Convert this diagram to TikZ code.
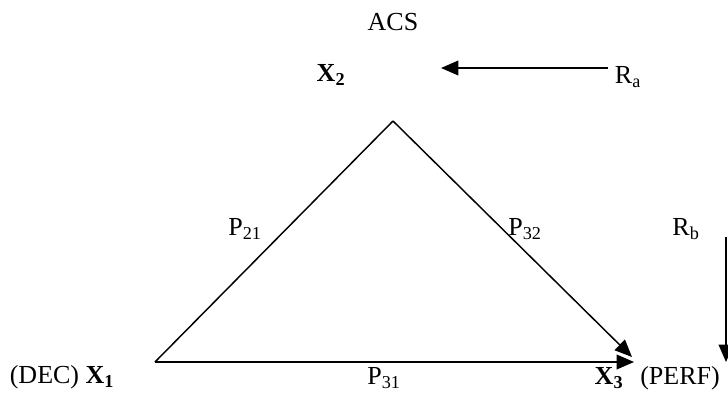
\documentclass[tikz,border=0pt]{standalone}
\usepackage{fontspec}
\setmainfont{Liberation Serif}
\usetikzlibrary{arrows.meta}
\begin{document}
\begin{tikzpicture}[x=0.75pt, y=-0.75pt, >={Triangle[length=13pt,width=11pt]},
    lbl/.style={inner sep=0pt, font=\fontsize{19.5}{22}\selectfont},
    edge/.style={line width=1.1pt}]
  \useasboundingbox (0,0) rectangle (728,393);
  % vertices of the triangle
  \coordinate (v2) at (393,121);
  \coordinate (v1) at (155,362);
  \coordinate (v3) at (634,362);
  \coordinate (v3d) at (632,357);
  % labels
  \node[lbl] (acs) at (393,22) {ACS};
  \node[lbl] (x2) at (331,75) {\textbf{X\textsubscript{2}}};
  \node[lbl] (ra) at (628,77) {R\textsubscript{a}};
  \node[lbl] (p21) at (245,229) {P\textsubscript{21}};
  \node[lbl] (p32) at (525,229) {P\textsubscript{32}};
  \node[lbl] (rb) at (686,229) {R\textsubscript{b}};
  \node[lbl] (x1) at (62,377) {(DEC) \textbf{X\textsubscript{1}}};
  \node[lbl] (p31) at (384,378) {P\textsubscript{31}};
  \node[lbl] (x3) at (609,378) {\textbf{X\textsubscript{3}}};
  \node[lbl] (perf) at (680,378) {(PERF)};
  % arrows
  \coordinate (ra0) at (608,68);
  \coordinate (ra1) at (441,68);
  \coordinate (rb0) at (726,237);
  \coordinate (rb1) at (726,362);
  \draw[edge] (v1) -- (v2);
  \draw[edge,->] (v2) -- (v3d);
  \draw[edge,->] (v1) -- (v3);
  \draw[edge,->] (ra0) -- (ra1);
  \draw[edge,->] (rb0) -- (rb1);
\end{tikzpicture}
\end{document}
